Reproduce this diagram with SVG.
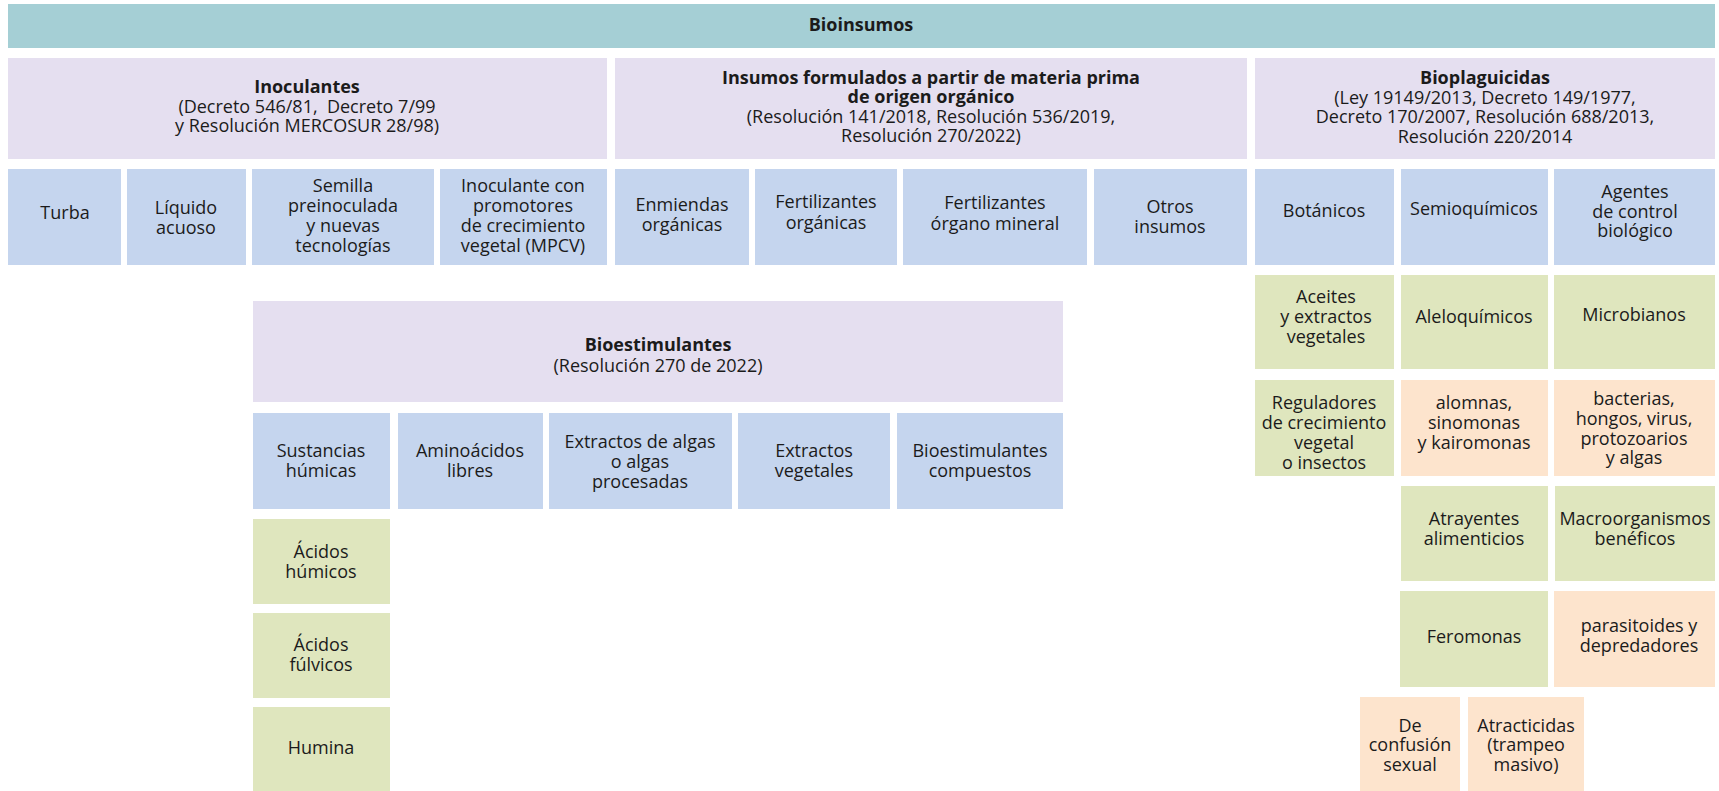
<svg xmlns="http://www.w3.org/2000/svg" width="1719" height="791" viewBox="0 0 1719 791">
<style>
text{font-family:"Open Sans","Liberation Sans",sans-serif;font-size:18px;fill:#1b1b1b;text-anchor:middle}
.b{font-weight:bold}
.teal{fill:#A5CFD5}
.lav{fill:#E5DFF0}
.blue{fill:#C5D5EE}
.green{fill:#DFE6BE}
.peach{fill:#FDE4CD}
</style>
<rect width="1719" height="791" fill="#ffffff"/>
<g id="bioinsumos"><rect class="teal" x="8" y="4" width="1707" height="44"/><text class="b" x="861" y="31">Bioinsumos</text></g>

<g id="inoculantes"><rect class="lav" x="8" y="58" width="599" height="101"/>
<text x="307" y="93"><tspan class="b">Inoculantes</tspan><tspan x="307" dy="20">(Decreto 546/81,&#160; Decreto 7/99</tspan><tspan x="307" dy="19">y Resolución MERCOSUR 28/98)</tspan></text></g>
<g id="insumos"><rect class="lav" x="615" y="58" width="632" height="101"/>
<text x="931" y="84"><tspan class="b">Insumos formulados a partir de materia prima</tspan><tspan class="b" x="931" dy="19">de origen orgánico</tspan><tspan x="931" dy="20">(Resolución 141/2018, Resolución 536/2019,</tspan><tspan x="931" dy="19">Resolución 270/2022)</tspan></text></g>
<g id="bioplaguicidas"><rect class="lav" x="1255" y="58" width="460" height="101"/>
<text x="1485" y="84"><tspan class="b">Bioplaguicidas</tspan><tspan x="1485" dy="20">(Ley 19149/2013, Decreto 149/1977,</tspan><tspan x="1485" dy="19">Decreto 170/2007, Resolución 688/2013,</tspan><tspan x="1485" dy="20">Resolución 220/2014</tspan></text></g>

<g id="turba"><rect class="blue" x="8" y="169" width="113" height="96"/><text x="65" y="219">Turba</text></g>
<g id="liquido"><rect class="blue" x="127" y="169" width="119" height="96"/><text x="186" y="214">Líquido<tspan x="186" dy="20">acuoso</tspan></text></g>
<g id="semilla"><rect class="blue" x="252" y="169" width="182" height="96"/><text x="343" y="192">Semilla<tspan x="343" dy="20">preinoculada</tspan><tspan x="343" dy="20">y nuevas</tspan><tspan x="343" dy="20">tecnologías</tspan></text></g>
<g id="mpcv"><rect class="blue" x="440" y="169" width="167" height="96"/><text x="523" y="192">Inoculante con<tspan x="523" dy="20">promotores</tspan><tspan x="523" dy="20">de crecimiento</tspan><tspan x="523" dy="20">vegetal (MPCV)</tspan></text></g>
<g id="enmiendas"><rect class="blue" x="615" y="169" width="134" height="96"/><text x="682" y="211">Enmiendas<tspan x="682" dy="20">orgánicas</tspan></text></g>
<g id="fert-org"><rect class="blue" x="755" y="169" width="142" height="96"/><text x="826" y="208">Fertilizantes<tspan x="826" dy="21">orgánicas</tspan></text></g>
<g id="fert-om"><rect class="blue" x="903" y="169" width="184" height="96"/><text x="995" y="209">Fertilizantes<tspan x="995" dy="21">órgano mineral</tspan></text></g>
<g id="otros"><rect class="blue" x="1094" y="169" width="153" height="96"/><text x="1170" y="213">Otros<tspan x="1170" dy="20">insumos</tspan></text></g>
<g id="botanicos"><rect class="blue" x="1255" y="169" width="139" height="96"/><text x="1324" y="217">Botánicos</text></g>
<g id="semioquimicos"><rect class="blue" x="1401" y="169" width="147" height="96"/><text x="1474" y="215">Semioquímicos</text></g>
<g id="agentes"><rect class="blue" x="1554" y="169" width="161" height="96"/><text x="1635" y="198">Agentes<tspan x="1635" dy="20">de control</tspan><tspan x="1635" dy="19">biológico</tspan></text></g>

<g id="aceites"><rect class="green" x="1255" y="275" width="139" height="94"/><text x="1326" y="303">Aceites<tspan x="1326" dy="20">y extractos</tspan><tspan x="1326" dy="20">vegetales</tspan></text></g>
<g id="aleloquimicos"><rect class="green" x="1401" y="275" width="147" height="94"/><text x="1474" y="323">Aleloquímicos</text></g>
<g id="microbianos"><rect class="green" x="1554" y="275" width="161" height="94"/><text x="1634" y="321">Microbianos</text></g>

<g id="reguladores"><rect class="green" x="1255" y="380" width="139" height="96"/><text x="1324" y="409">Reguladores<tspan x="1324" dy="20">de crecimiento</tspan><tspan x="1324" dy="20">vegetal</tspan><tspan x="1324" dy="20">o insectos</tspan></text></g>
<g id="alomnas"><rect class="peach" x="1401" y="380" width="147" height="96"/><text x="1474" y="409">alomnas,<tspan x="1474" dy="20">sinomonas</tspan><tspan x="1474" dy="20">y kairomonas</tspan></text></g>
<g id="bacterias"><rect class="peach" x="1554" y="380" width="161" height="96"/><text x="1634" y="405">bacterias,<tspan x="1634" dy="20">hongos, virus,</tspan><tspan x="1634" dy="20">protozoarios</tspan><tspan x="1634" dy="19">y algas</tspan></text></g>

<g id="atrayentes"><rect class="green" x="1401" y="486" width="147" height="95"/><text x="1474" y="525">Atrayentes<tspan x="1474" dy="20">alimenticios</tspan></text></g>
<g id="macroorganismos"><rect class="green" x="1555" y="486" width="160" height="95"/><text x="1635" y="525">Macroorganismos<tspan x="1635" dy="20">benéficos</tspan></text></g>

<g id="feromonas"><rect class="green" x="1400" y="591" width="148" height="96"/><text x="1474" y="643">Feromonas</text></g>
<g id="parasitoides"><rect class="peach" x="1554" y="591" width="161" height="96"/><text x="1639" y="632">parasitoides y<tspan x="1639" dy="20">depredadores</tspan></text></g>

<g id="confusion"><rect class="peach" x="1360" y="697" width="100" height="94"/><text x="1410" y="732">De<tspan x="1410" dy="19">confusión</tspan><tspan x="1410" dy="20">sexual</tspan></text></g>
<g id="atracticidas"><rect class="peach" x="1468" y="697" width="116" height="94"/><text x="1526" y="732">Atracticidas<tspan x="1526" dy="19">(trampeo</tspan><tspan x="1526" dy="20">masivo)</tspan></text></g>

<g id="bioestimulantes"><rect class="lav" x="253" y="301" width="810" height="101"/><text x="658" y="351"><tspan class="b">Bioestimulantes</tspan><tspan x="658" dy="21">(Resolución 270 de 2022)</tspan></text></g>

<g id="sustancias"><rect class="blue" x="253" y="413" width="137" height="96"/><text x="321" y="457">Sustancias<tspan x="321" dy="20">húmicas</tspan></text></g>
<g id="aminoacidos"><rect class="blue" x="398" y="413" width="145" height="96"/><text x="470" y="457">Aminoácidos<tspan x="470" dy="20">libres</tspan></text></g>
<g id="algas"><rect class="blue" x="549" y="413" width="183" height="96"/><text x="640" y="448">Extractos de algas<tspan x="640" dy="20">o algas</tspan><tspan x="640" dy="20">procesadas</tspan></text></g>
<g id="extractos-veg"><rect class="blue" x="738" y="413" width="152" height="96"/><text x="814" y="457">Extractos<tspan x="814" dy="20">vegetales</tspan></text></g>
<g id="bioest-comp"><rect class="blue" x="897" y="413" width="166" height="96"/><text x="980" y="457">Bioestimulantes<tspan x="980" dy="20">compuestos</tspan></text></g>

<g id="humicos"><rect class="green" x="253" y="519" width="137" height="85"/><text x="321" y="558">Ácidos<tspan x="321" dy="20">húmicos</tspan></text></g>
<g id="fulvicos"><rect class="green" x="253" y="613" width="137" height="85"/><text x="321" y="651">Ácidos<tspan x="321" dy="20">fúlvicos</tspan></text></g>
<g id="humina"><rect class="green" x="253" y="707" width="137" height="84"/><text x="321" y="754">Humina</text></g>
</svg>
